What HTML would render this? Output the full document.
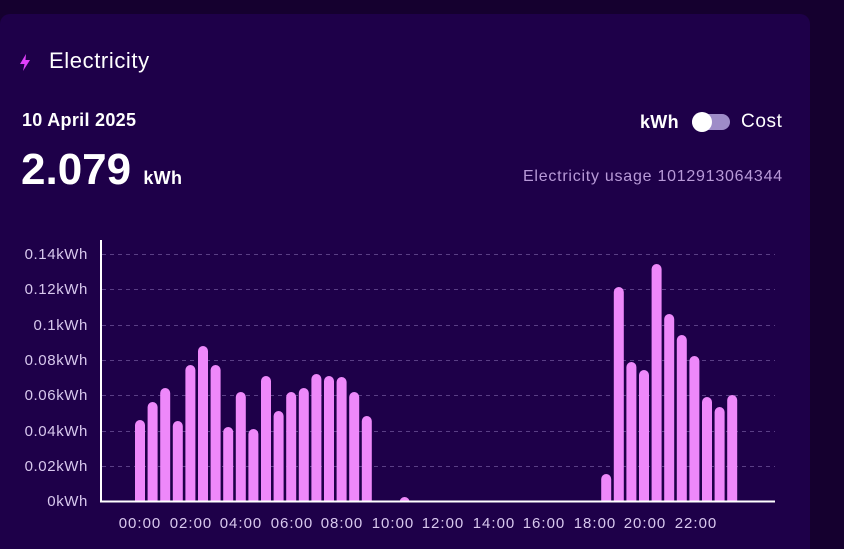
<!DOCTYPE html><html style="overflow:hidden"><head><style>
html,body{margin:0;width:844px;height:549px;overflow:hidden}
body{background:#15002f;font-family:"Liberation Sans",sans-serif;position:relative}
.card{position:absolute;left:0;top:14px;width:810px;height:535px;background:#1e0049;border-radius:10px 10px 0 0}
.t{position:absolute;color:#fff;white-space:nowrap}
</style></head><body>
<div class="card"></div>
<svg style="position:absolute;left:19px;top:54px" width="12" height="17" viewBox="0 0 12 17"><path d="M7 0 L1 10 H5.5 L4 17 L11 6 H6.5 Z" fill="#e040fb"/></svg>
<div class="t" style="left:49px;top:48px;font-size:22px;letter-spacing:0.6px">Electricity</div>
<div class="t" style="left:22px;top:110px;font-size:18px;font-weight:bold;letter-spacing:0.3px">10 April 2025</div>
<div class="t" style="left:21px;top:145px;font-size:44px;font-weight:bold;letter-spacing:0px">2.079 <span style="font-size:18px;letter-spacing:0.3px">kWh</span></div>
<div class="t" style="left:640px;top:112px;font-size:18px;font-weight:bold;letter-spacing:0.3px">kWh</div>
<div style="position:absolute;left:692px;top:114px;width:38px;height:16px;border-radius:8px;background:#9e8cc8"></div>
<div style="position:absolute;left:692px;top:112px;width:20px;height:20px;border-radius:10px;background:#fff"></div>
<div class="t" style="left:741px;top:111px;font-size:19px;letter-spacing:0.6px">Cost</div>
<div class="t" style="left:523px;top:168px;font-size:16px;letter-spacing:0.75px;color:#b89ad8">Electricity usage 1012913064344</div>
<svg width="844" height="549" style="position:absolute;left:0;top:0" font-family="Liberation Sans" font-size="15">
<defs><clipPath id="c"><rect x="100" y="200" width="700" height="301"/></clipPath></defs>
<g stroke="#5a3f85" stroke-dasharray="4,4">
<line x1="102" x2="775" y1="254.5" y2="254.5"/><line x1="102" x2="775" y1="289.5" y2="289.5"/><line x1="102" x2="775" y1="325.5" y2="325.5"/><line x1="102" x2="775" y1="360.5" y2="360.5"/><line x1="102" x2="775" y1="395.5" y2="395.5"/><line x1="102" x2="775" y1="431.5" y2="431.5"/><line x1="102" x2="775" y1="466.5" y2="466.5"/></g>
<g fill="#d8c8ee" text-anchor="end" letter-spacing="0.6">
<text x="88" y="259">0.14kWh</text><text x="88" y="294">0.12kWh</text><text x="88" y="330">0.1kWh</text><text x="88" y="365">0.08kWh</text><text x="88" y="400">0.06kWh</text><text x="88" y="436">0.04kWh</text><text x="88" y="471">0.02kWh</text><text x="88" y="506">0kWh</text></g>
<g fill="#d8c8ee" text-anchor="middle" letter-spacing="1">
<text x="140" y="528">00:00</text><text x="191" y="528">02:00</text><text x="241" y="528">04:00</text><text x="292" y="528">06:00</text><text x="342" y="528">08:00</text><text x="393" y="528">10:00</text><text x="443" y="528">12:00</text><text x="494" y="528">14:00</text><text x="544" y="528">16:00</text><text x="595" y="528">18:00</text><text x="645" y="528">20:00</text><text x="696" y="528">22:00</text></g>
<g id="b" fill="#ee88fa" clip-path="url(#c)"></g>
<line x1="101" y1="240" x2="101" y2="502" stroke="#fff" stroke-width="2"/>
<line x1="100" y1="501.5" x2="775" y2="501.5" stroke="#fff" stroke-width="2"/>
</svg>
<script>
var tops={0:420,1:402,2:388,3:421,4:365,5:346,6:365,7:427,8:392,9:429,10:376,11:411,12:392,13:388,14:374,15:376,16:377,17:392,18:416,21:497,37:474,38:287,39:362,40:370,41:264,42:314,43:335,44:356,45:397,46:407,47:395};
var g=document.getElementById('b'),s='';
for(var i in tops){var cx=140+12.6*i,t=tops[i];s+='<rect x="'+(cx-5)+'" y="'+t+'" width="10" height="'+(510-t)+'" rx="5"/>';}
g.innerHTML=s;
</script>
</body></html>
